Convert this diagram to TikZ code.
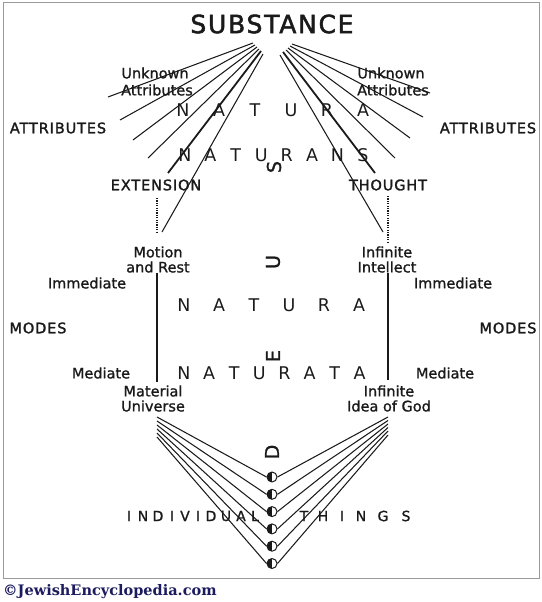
\documentclass[tikz,border=0pt]{standalone}
\usepackage{fontspec}
\setmainfont{DejaVu Sans}
\newfontfamily\medfont[FakeBold=1.2]{DejaVu Sans}
\newfontfamily\spacedfont[LetterSpace=6,FakeBold=1.8]{DejaVu Sans}
\newfontfamily\subfont[LetterSpace=7,FakeBold=2]{DejaVu Sans}
\newfontfamily\footfont{DejaVu Serif}
\definecolor{ink}{HTML}{1A1A1A}
\definecolor{framegray}{HTML}{9A9A9A}
\definecolor{navy}{HTML}{1B1B5E}
\begin{document}
\begin{tikzpicture}[x=1pt,y=-1pt,
  every node/.style={inner sep=0pt, text=ink},
  fan/.style={draw=ink, line width=1.05pt},
  fanthick/.style={draw=ink, line width=1.8pt},
  dotline/.style={draw=ink, line width=1.1pt, dash pattern=on 1.2pt off 1.2pt},
  lab/.style={font=\medfont\fontsize{14.5}{15}\selectfont, align=center},
  caps/.style={font=\spacedfont\fontsize{14.5}{16}\selectfont},
  bigl/.style={font=\fontsize{17.5}{18}\selectfont},
  smalll/.style={font=\medfont\fontsize{14}{16}\selectfont},
  deus/.style={font=\medfont\fontsize{19}{20}\selectfont, rotate=90},
  halfdot/.style={circle, draw=ink, line width=1pt, minimum size=10pt, inner sep=0pt,
    path picture={\fill[ink] (path picture bounding box.south west) rectangle (path picture bounding box.north);}}
]
\useasboundingbox (0,0) rectangle (541,602);
\draw[framegray, line width=1pt] (3,3) rectangle (539,578);

% title
\node[font=\subfont\fontsize{25}{26}\selectfont] (subst) at (272,24) {SUBSTANCE};

% left fan
\foreach \sx/\sy/\ex/\ey [count=\i] in {253/43/108/97, 255/45/120/120, 257/47/133/140, 259/49/148/158}{
  \coordinate (la\i) at (\sx,\sy); \coordinate (lb\i) at (\ex,\ey);
  \draw[fan] (la\i) -- (lb\i);
}
\coordinate (la5) at (261,51); \coordinate (lb5) at (168,173);
\draw[fanthick] (la5) -- (lb5);
\coordinate (la6) at (263,54); \coordinate (lb6) at (162,232);
\draw[fan] (la6) -- (lb6);

% right fan
\foreach \sx/\sy/\ex/\ey [count=\i] in {292/44/430/93, 290/46/423/117, 288/48/410/138, 286/50/395/158}{
  \coordinate (ra\i) at (\sx,\sy); \coordinate (rb\i) at (\ex,\ey);
  \draw[fan] (ra\i) -- (rb\i);
}
\coordinate (ra5) at (283,52); \coordinate (rb5) at (375,173);
\draw[fanthick] (ra5) -- (rb5);
\coordinate (ra6) at (280,55); \coordinate (rb6) at (383,232);
\draw[fan] (ra6) -- (rb6);

% attribute labels
\node[lab] (unkL) at (155,73) {Unknown};
\node[lab] (attL) at (157,90) {Attributes};
\node[lab] (unkR) at (391,73) {Unknown};
\node[lab] (attR) at (393,90) {Attributes};
\node[caps] (ATTL) at (58,128) {ATTRIBUTES};
\node[caps] (ATTR) at (488,128) {ATTRIBUTES};
\node[caps] (ext) at (156,185) {EXTENSION};
\node[caps] (tho) at (388,185) {THOUGHT};

% NATURA NATURANS
\foreach \l [count=\i] in {N,A,T,U,R,A}
  \node[bigl] (nA\i) at ({183+36*(\i-1)},110) {\l};
\foreach \l [count=\i] in {N,A,T,U,R,A,N,S}
  \node[bigl] (nN\i) at ({185+25.4*(\i-1)},155) {\l};

% DEUS
\node[deus] (dS) at (274,167) {S};
\node[deus] (dU) at (273,262) {U};
\node[deus] (dE) at (273,356) {E};
\node[deus] (dD) at (272,452) {D};

% dotted links
\coordinate (dl1) at (157,198); \coordinate (dl2) at (157,233);
\draw[dotline] (dl1) -- (dl2);
\coordinate (dr1) at (388,196); \coordinate (dr2) at (388,242);
\draw[dotline] (dr1) -- (dr2);

% modes
\node[lab] (mot) at (158,259.5) {Motion\\and Rest};
\node[lab] (inf) at (387,259.5) {Infinite\\Intellect};
\node[lab] (immL) at (87,283) {Immediate};
\node[lab] (immR) at (453,283) {Immediate};
\node[caps] (modL) at (38,328) {MODES};
\node[caps] (modR) at (508,328) {MODES};
\node[lab] (medL) at (101,373) {Mediate};
\node[lab] (medR) at (445,373) {Mediate};
\node[lab] (mat) at (153,398.5) {Material\\Universe};
\node[lab] (idea) at (389,398.5) {Infinite\\Idea of God};

\coordinate (vl1) at (157,273); \coordinate (vl2) at (157,382);
\draw[fan] (vl1) -- (vl2);
\coordinate (vr1) at (388,273); \coordinate (vr2) at (388,380);
\draw[fan] (vr1) -- (vr2);

% NATURA NATURATA
\foreach \l [count=\i] in {N,A,T,U,R,A}
  \node[bigl] (mA\i) at ({184+35*(\i-1)},305) {\l};
\foreach \l [count=\i] in {N,A,T,U,R,A,T,A}
  \node[bigl] (mN\i) at ({184+25.1*(\i-1)},373) {\l};

% individual things
\foreach \y [count=\i] in {477,494.3,511.6,528.9,546.2,563.5}
  \node[halfdot] (c\i) at (272,\y) {};
\foreach \y [count=\i] in {417,421,425,429,433,437}{
  \coordinate (ml\i) at (157,\y);
  \draw[fan] (ml\i) -- (c\i.west);
}
\foreach \y [count=\i] in {417,420.5,424,427.5,431,435}{
  \coordinate (mr\i) at (388,\y);
  \draw[fan] (mr\i) -- (c\i.east);
}
\foreach \l/\x [count=\i] in {I/129,N/143,D/158,I/172,V/185,I/198,D/211,U/226,A/241,L/255}
  \node[smalll] (iv\i) at (\x,516) {\l};
\foreach \l/\x [count=\i] in {T/304,H/323,I/342,N/361,G/383,S/406}
  \node[smalll] (th\i) at (\x,516) {\l};

% footer
\node[anchor=west, font=\footfont\bfseries\fontsize{14.5}{15}\selectfont, text=navy] (foot) at (3,592) {©JewishEncyclopedia.com};
\end{tikzpicture}
\end{document}
